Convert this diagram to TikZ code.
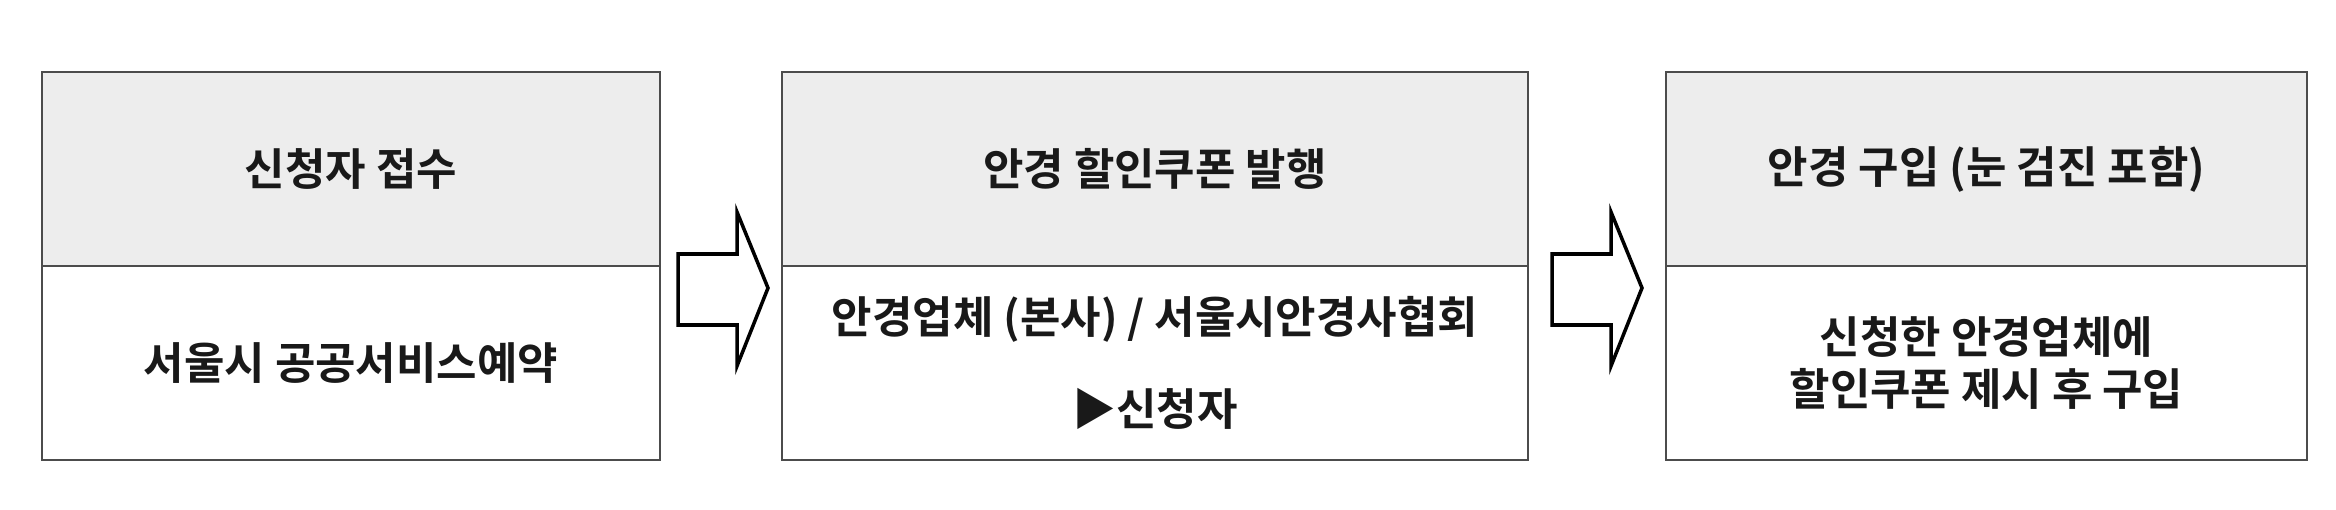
\documentclass[tikz,border=0pt]{standalone}
\usepackage{fontspec}
\newfontfamily\kr{Noto Sans CJK KR Bold}
\begin{document}
\begin{tikzpicture}[x=0.01cm,y=-0.01cm,
  box/.style={draw=black!70,line width=0.6pt},
  hdr/.style={box,fill=black!7},
  txt/.style={font=\kr\fontsize{12.5}{15}\selectfont,align=center,text=black!90},
  arr/.style={draw=black,line width=1pt,line join=miter}]
\useasboundingbox (0,0) rectangle (2336,509);
% boxes
\foreach \n/\l/\r in {a/42/660,b/782/1528,c/1666/2307}{
  \draw[hdr] (\l,72) rectangle (\r,266);
  \draw[box] (\l,266) rectangle (\r,460);
  \coordinate (\n h) at ({(\l+\r)/2},169);
  \coordinate (\n b) at ({(\l+\r)/2},363);
}
\node[txt] (t1) at (ah) {신청자 접수};
\node[txt] (t2) at (bh) {안경 할인쿠폰 발행};
\node[txt] (t3) at (ch) {안경 구입 (눈 검진 포함)};
\node[txt] (b1) at (ab) {서울시 공공서비스예약};
\node[txt] (b2) at (bb) {안경업체 (본사) / 서울시안경사협회\\[11pt]▶신청자};
\node[txt] (b3) at (cb) {신청한 안경업체에\\할인쿠폰 제시 후 구입};
% arrows
\foreach \x in {678,1552}{
  \draw[arr] (\x,254) -- ({\x+59},254) -- ({\x+59},212) -- ({\x+90},288) -- ({\x+59},366) -- ({\x+59},325) -- (\x,325) -- cycle;
}
\end{tikzpicture}
\end{document}
